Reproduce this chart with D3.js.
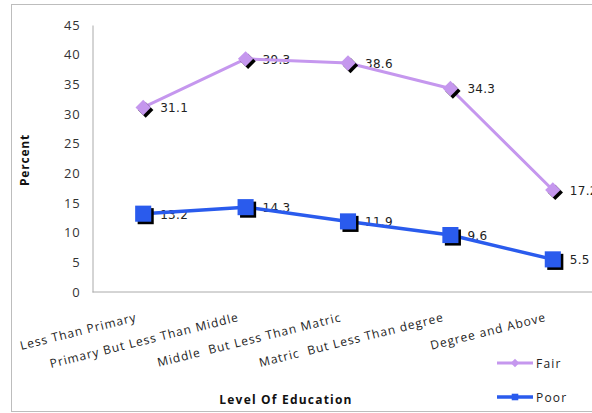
<!DOCTYPE html>
<html>
<head>
<meta charset="utf-8">
<script src="https://cdn.jsdelivr.net/npm/d3@7"></script>
<style>
  body { margin: 0; background: #fff; }
  svg { display: block; }
</style>
</head>
<body>
<svg id="chart" width="592" height="413"></svg>
<script>
// Education level categories (double spaces are part of the labels)
const categories = [
  "Less Than Primary",
  "Primary But Less Than Middle",
  "Middle  But Less Than Matric",
  "Matric  But Less Than degree",
  "Degree and Above"
];
const fairValues = [31.1, 39.3, 38.6, 34.3, 17.2];
const poorValues = [13.2, 14.3, 11.9, 9.6, 5.5];
const yTicks = [0, 5, 10, 15, 20, 25, 30, 35, 40, 45];
const seriesNames = ["Fair", "Poor"];

const fairColor = "#c597ee";
const poorColor = "#2a5bed";
const axisFont = "'Open Sans', sans-serif";

const svg = d3.select("#chart");

// outer frame
svg.append("rect")
  .attr("x", 11.5).attr("y", 4.5)
  .attr("width", 620).attr("height", 407)
  .attr("fill", "none").attr("stroke", "#bdbdbd").attr("stroke-width", 1);

const x = d3.scaleBand().domain(categories).range([92, 604]);
const cx = c => x(c) + x.bandwidth() / 2;
const y = d3.scaleLinear().domain([0, 45]).range([292, 25]);

// y axis
const yAxis = svg.append("g")
  .attr("transform", "translate(92.5,0)")
  .call(d3.axisLeft(y).tickValues(yTicks).tickSize(0).tickSizeOuter(0).tickPadding(12));
yAxis.select(".domain").attr("stroke", "#aaa");
yAxis.selectAll("text")
  .attr("font-family", axisFont).attr("font-size", 13)
  .attr("letter-spacing", "0.8px").attr("fill", "#333");

// x axis
const xAxis = svg.append("g")
  .attr("transform", "translate(0,291.5)")
  .call(d3.axisBottom(x).tickSize(0).tickSizeOuter(0).tickFormat(""));
xAxis.select(".domain").attr("stroke", "#aaa");

// rotated category labels
svg.append("g").selectAll("text")
  .data(categories)
  .join("text")
  .attr("transform", d => `translate(${cx(d) - 6},321) rotate(-14)`)
  .attr("text-anchor", "end")
  .style("white-space", "pre")
  .attr("font-family", axisFont).attr("font-size", 12)
  .attr("letter-spacing", "1px").attr("fill", "#222")
  .text(d => d);

// axis titles
svg.append("text")
  .attr("transform", "translate(29,160) rotate(-90)")
  .attr("text-anchor", "middle")
  .attr("font-family", axisFont).attr("font-size", 12).attr("font-weight", "bold")
  .attr("letter-spacing", "0.8px").attr("fill", "#111")
  .text("Percent");

svg.append("text")
  .attr("x", 286).attr("y", 404)
  .attr("text-anchor", "middle")
  .attr("font-family", axisFont).attr("font-size", 12).attr("font-weight", "bold")
  .attr("letter-spacing", "1.2px").attr("fill", "#111")
  .text("Level Of Education");

const series = [
  { name: seriesNames[0], values: fairValues, color: fairColor, shape: d3.symbolDiamond2, size: 150, width: 3 },
  { name: seriesNames[1], values: poorValues, color: poorColor, shape: d3.symbolSquare2, size: 330, width: 3.5 }
];

// value labels sit beneath the lines
series.forEach(s => {
  svg.append("g").selectAll("text")
    .data(categories)
    .join("text")
    .attr("x", d => cx(d) + 17)
    .attr("y", (d, i) => y(s.values[i]) + 5)
    .attr("font-family", "'DejaVu Sans', sans-serif").attr("font-size", 12)
    .attr("letter-spacing", "0.3px").attr("fill", "#222")
    .text((d, i) => s.values[i]);
});

const line = d3.line().x(d => cx(d.c)).y(d => y(d.v));

series.forEach(s => {
  const pts = categories.map((c, i) => ({ c, v: s.values[i] }));
  svg.append("path")
    .datum(pts)
    .attr("d", line)
    .attr("fill", "none")
    .attr("stroke", s.color)
    .attr("stroke-width", s.width)
    .attr("stroke-linejoin", "round");

  const sym = d3.symbol().type(s.shape).size(s.size);
  const g = svg.append("g");
  // drop shadow
  g.selectAll("path.shadow")
    .data(pts).join("path")
    .attr("class", "shadow")
    .attr("d", sym)
    .attr("transform", d => `translate(${cx(d.c) + 2.5},${y(d.v) + 2.5})`)
    .attr("fill", "#000");
  g.selectAll("path.mark")
    .data(pts).join("path")
    .attr("class", "mark")
    .attr("d", sym)
    .attr("transform", d => `translate(${cx(d.c)},${y(d.v)})`)
    .attr("fill", s.color);
});

// legend
const legend = svg.append("g");
series.forEach((s, i) => {
  const ly = 363 + i * 34;
  legend.append("line")
    .attr("x1", 497).attr("x2", 533).attr("y1", ly).attr("y2", ly)
    .attr("stroke", s.color).attr("stroke-width", s.width);
  legend.append("path")
    .attr("d", d3.symbol().type(s.shape).size(s === series[0] ? 45 : 55)())
    .attr("transform", `translate(515,${ly})`)
    .attr("fill", s.color);
  legend.append("text")
    .attr("x", 536).attr("y", ly + 4.5)
    .attr("font-family", axisFont).attr("font-size", 12)
    .attr("letter-spacing", "1.2px").attr("fill", "#222")
    .text(s.name);
});
</script>
</body>
</html>
